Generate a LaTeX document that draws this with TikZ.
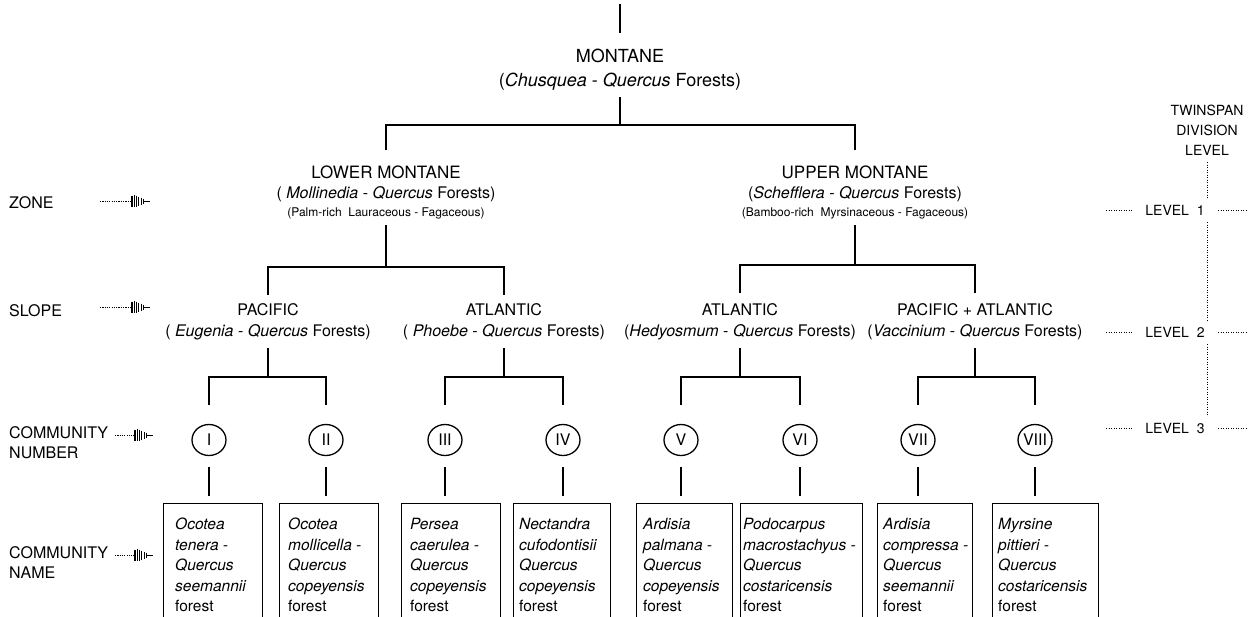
\documentclass[tikz,border=0pt]{standalone}
\usepackage{fontspec}
\setmainfont{TeX Gyre Heros}
\usetikzlibrary{calc,shapes.geometric}
\newcommand\featherarrow[3]{%
  \begin{scope}[shift={(#1,#2)}]
    \draw[line width=0.8pt, dash pattern=on 1.2pt off 1.1pt] (-#3,0) -- (0,0);
    \foreach \dx/\h in {0/5.5,2.3/6,4.6/5.5,6.9/4.5,9.2/3.5,11.5/2.5}
      \draw[line width=1.1pt] (\dx,-\h) -- (\dx,\h);
    \draw[line width=1pt] (11,0) -- (18,0);
  \end{scope}}
% name, left x, right x, text inset, text
\newcommand\communitybox[5]{%
  \node[frame, minimum width=#3-#2, anchor=north west] (#1) at (#2,503) {};
  \node[boxtxt, anchor=north west] (#1t) at (#2+#4,518) {#5};}
\begin{document}
\begin{tikzpicture}[x=1pt,y=-1pt,
  tree/.style={line width=1.4pt},
  top/.style={font=\fontsize{18}{20}\selectfont, inner sep=0pt},
  main/.style={font=\fontsize{17}{19}\selectfont, inner sep=0pt},
  mainsub/.style={font=\fontsize{16}{18}\selectfont, inner sep=0pt},
  sub/.style={font=\fontsize{12}{14}\selectfont, inner sep=0pt},
  slope/.style={font=\fontsize{16}{18}\selectfont, inner sep=0pt},
  numc/.style={ellipse, draw, line width=1.3pt, minimum width=34pt, minimum height=31pt, inner sep=0pt, font=\fontsize{16}{18}\selectfont},
  frame/.style={draw, line width=1.3pt, minimum height=150pt, inner sep=0pt},
  boxtxt/.style={font=\fontsize{15.5}{20.5}\selectfont, align=left, inner sep=0pt},
  lab/.style={font=\fontsize{16}{20}\selectfont, align=left, inner sep=0pt, anchor=west},
  rlab/.style={font=\fontsize{14}{20}\selectfont, inner sep=0pt},
  lev/.style={line width=0.8pt, dash pattern=on 1.2pt off 1.3pt}]
\useasboundingbox (0,0) rectangle (1255,616);
\clip (0,0) rectangle (1255,616);

% ---- level 0 : MONTANE
\coordinate (top) at (620,4);
\coordinate (topE) at (620,33);
\draw[tree] (top) -- (topE);
\node[top] (mont) at (620,56) {MONTANE};
\node[top] (montS) at (620,82) {(\textit{Chusquea} - \textit{Quercus} Forests)};
\coordinate (s0a) at (620,97); \coordinate (s0b) at (620,125);
\coordinate (b0L) at (386,125); \coordinate (b0R) at (855,125);
\coordinate (d0L) at (386,150); \coordinate (d0R) at (855,150);
\draw[tree] (s0a) -- (s0b);
\draw[tree] (d0L) -- (b0L) -- (b0R) -- (d0R);

% ---- zone
\node[main] (lm) at (386,172) {LOWER MONTANE};
\node[mainsub] (lmS) at (386,194) {( \textit{Mollinedia} - \textit{Quercus} Forests)};
\node[sub] (lmT) at (386,213) {(Palm-rich\ \ Lauraceous - Fagaceous)};
\node[main] (um) at (855,172) {UPPER MONTANE};
\node[mainsub] (umS) at (855,194) {(\textit{Schefflera} - \textit{Quercus} Forests)};
\node[sub] (umT) at (855,213) {(Bamboo-rich\ \ Myrsinaceous - Fagaceous)};

\coordinate (s1a) at (386,225); \coordinate (s1b) at (386,267);
\coordinate (b1L) at (268,267); \coordinate (b1R) at (504,267);
\coordinate (d1L) at (268,295); \coordinate (d1R) at (504,295);
\draw[tree] (s1a) -- (s1b);
\draw[tree] (d1L) -- (b1L) -- (b1R) -- (d1R);
\coordinate (s2a) at (855,225); \coordinate (s2b) at (855,265);
\coordinate (b2L) at (740,265); \coordinate (b2R) at (975,265);
\coordinate (d2L) at (740,293); \coordinate (d2R) at (975,293);
\draw[tree] (s2a) -- (s2b);
\draw[tree] (d2L) -- (b2L) -- (b2R) -- (d2R);

% ---- slope
\node[slope] (p1) at (268,310) {PACIFIC};
\node[slope] (p1S) at (268,332) {( \textit{Eugenia} - \textit{Quercus} Forests)};
\node[slope] (a1) at (504,310) {ATLANTIC};
\node[slope] (a1S) at (504,332) {( \textit{Phoebe} - \textit{Quercus} Forests)};
\node[slope] (a2) at (740,310) {ATLANTIC};
\node[slope] (a2S) at (740,332) {(\textit{Hedyosmum} - \textit{Quercus} Forests)};
\node[slope] (pa) at (975,310) {PACIFIC + ATLANTIC};
\node[slope] (paS) at (975,332) {(\textit{Vaccinium} - \textit{Quercus} Forests)};

\foreach \c/\l/\r in {268/209/326, 504/445/563, 740/681/800, 975/918/1035}{
  \draw[tree] (\c,348) -- (\c,377);
  \draw[tree] (\l,405) -- (\l,377) -- (\r,377) -- (\r,405);
}

% ---- community numbers
\node[numc] (c1) at (209,440) {I};
\node[numc] (c2) at (326,440) {II};
\node[numc] (c3) at (445,440) {III};
\node[numc] (c4) at (563,440) {IV};
\node[numc] (c5) at (681,440) {V};
\node[numc] (c6) at (800,440) {VI};
\node[numc] (c7) at (918,440) {VII};
\node[numc] (c8) at (1035,440) {VIII};

% ---- community names
\communitybox{n1}{163}{262}{12}{\textit{Ocotea}\\\textit{tenera -}\\\textit{Quercus}\\\textit{seemannii}\\forest}
\communitybox{n2}{279}{378}{9}{\textit{Ocotea}\\\textit{mollicella -}\\\textit{Quercus}\\\textit{copeyensis}\\forest}
\communitybox{n3}{401}{500}{9}{\textit{Persea}\\\textit{caerulea -}\\\textit{Quercus}\\\textit{copeyensis}\\forest}
\communitybox{n4}{513}{610}{6}{\textit{Nectandra}\\\textit{cufodontisii}\\\textit{Quercus}\\\textit{copeyensis}\\forest}
\communitybox{n5}{636}{732}{7}{\textit{Ardisia}\\\textit{palmana -}\\\textit{Quercus}\\\textit{copeyensis}\\forest}
\communitybox{n6}{740}{862}{3}{\textit{Podocarpus}\\\textit{macrostachyus -}\\\textit{Quercus}\\\textit{costaricensis}\\forest}
\communitybox{n7}{877}{972}{6}{\textit{Ardisia}\\\textit{compressa -}\\\textit{Quercus}\\\textit{seemannii}\\forest}
\communitybox{n8}{992}{1098}{6}{\textit{Myrsine}\\\textit{pittieri -}\\\textit{Quercus}\\\textit{costaricensis}\\forest}

\foreach \i in {1,...,8}{
  \draw[tree] ($(c\i.south)+(0,11)$) -- ($(c\i.south)+(0,40)$);
}

% ---- left labels
\node[lab] (zone) at (9,203) {ZONE};
\featherarrow{132}{201}{32}
\node[lab] (slopeL) at (9,311) {SLOPE};
\featherarrow{132}{307}{32}
\node[lab] (cnum) at (9,443) {COMMUNITY\\NUMBER};
\featherarrow{135}{435}{20}
\node[lab] (cname) at (9,563) {COMMUNITY\\NAME};
\featherarrow{135}{555}{20}

% ---- right labels
\node[rlab] (tw1) at (1207,110) {TWINSPAN};
\node[rlab] (tw2) at (1207,130) {DIVISION};
\node[rlab] (tw3) at (1207,150) {LEVEL};
\node[rlab] (l1) at (1175,210) {LEVEL\ \ 1};
\node[rlab] (l2) at (1175,332) {LEVEL\ \ 2};
\node[rlab] (l3) at (1175,428) {LEVEL\ \ 3};
\draw[lev] (1207,162) -- (1207,198);
\draw[lev] (1207,222) -- (1207,320);
\draw[lev] (1207,344) -- (1207,416);
\foreach \y in {210,332,428}{
  \draw[lev] (1106,\y) -- (1133,\y);
  \draw[lev] (1218,\y) -- (1246,\y);
}
\end{tikzpicture}
\end{document}
